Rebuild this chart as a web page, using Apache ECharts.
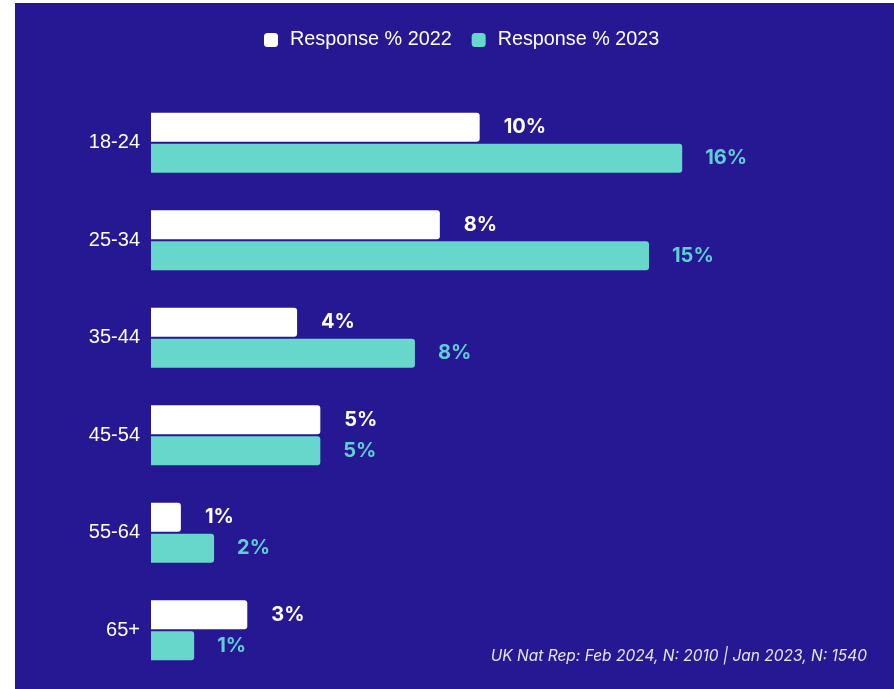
<!DOCTYPE html>
<html>
<head>
<meta charset="utf-8">
<script src="https://cdn.jsdelivr.net/npm/echarts@6/dist/echarts.min.js"></script>
<style>
  html, body { margin: 0; padding: 0; background: #fff; }
  #chart { position: absolute; left: 15px; top: 3px; width: 879px; height: 686px; }
</style>
</head>
<body>
<div id="chart"></div>
<script>
// age groups, top to bottom
const categories = ['18-24', '25-34', '35-44', '45-54', '55-64', '65+']
// bar lengths (%)
const values2022 = [9.9, 8.7, 4.4, 5.1, 0.9, 2.9]
const values2023 = [16.0, 15.0, 7.95, 5.1, 1.9, 1.3]
// the printed labels
const labels2022 = ['10%', '8%', '4%', '5%', '1%', '3%']
const labels2023 = ['16%', '15%', '8%', '5%', '2%', '1%']
const seriesNames = ['Response % 2022', 'Response % 2023']
const footnote = 'UK Nat Rep: Feb 2024, N: 2010 | Jan 2023, N: 1540'

const dom = echarts.init(document.getElementById('chart'))
const option = {
  backgroundColor: '#261893',
  animation: false,
  legend: {
    top: 22,
    left: 244,
    itemWidth: 14,
    itemHeight: 14,
    itemGap: 20,
    icon: 'roundRect',
    textStyle: {
      color: '#ffffff',
      fontSize: 19.8,
      fontFamily: 'Liberation Sans',
      padding: [0, 0, 0, 7]
    },
    data: seriesNames
  },
  grid: {
    left: 136,
    right: 79,
    top: 91,
    bottom: 10
  },
  xAxis: {
    type: 'value',
    min: 0,
    max: 20,
    show: false
  },
  yAxis: {
    type: 'category',
    inverse: true,
    data: categories,
    axisLine: { show: false },
    axisTick: { show: false },
    axisLabel: {
      color: '#ffffff',
      fontSize: 20,
      fontFamily: 'Liberation Sans',
      margin: 11
    }
  },
  series: [
    {
      name: seriesNames[0],
      type: 'bar',
      data: values2022,
      barWidth: 29,
      barGap: '7%',
      itemStyle: { color: '#ffffff', borderRadius: [0, 3, 3, 0] },
      label: {
        show: true,
        position: 'right',
        distance: 24,
        color: '#ffffff',
        fontSize: 20,
        fontWeight: 'bold',
        fontFamily: 'Inter',
        formatter: p => labels2022[p.dataIndex]
      }
    },
    {
      name: seriesNames[1],
      type: 'bar',
      data: values2023,
      barWidth: 29,
      itemStyle: { color: '#66d7ca', borderRadius: [0, 3, 3, 0] },
      label: {
        show: true,
        position: 'right',
        distance: 23,
        color: '#5fcfd3',
        fontSize: 20,
        fontWeight: 'bold',
        fontFamily: 'Inter',
        formatter: p => labels2023[p.dataIndex]
      }
    }
  ],
  graphic: [
    {
      type: 'text',
      right: 27,
      top: 645,
      style: {
        text: footnote,
        fill: '#e6e6f5',
        fontSize: 15.5,
        fontStyle: 'italic',
        fontFamily: 'Inter'
      }
    }
  ]
}
dom.setOption(option)
</script>
</body>
</html>
